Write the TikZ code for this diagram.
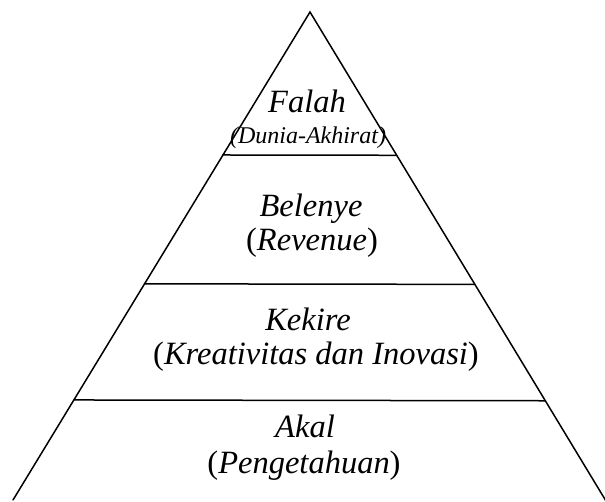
\documentclass[tikz,border=0pt]{standalone}
\usepackage{fontspec}
\setmainfont{Liberation Serif}
\usetikzlibrary{calc}
\tikzset{
  edge/.style={line width=1.5pt, line cap=round},
  bigtxt/.style={anchor=base, inner sep=0pt, font=\fontsize{32.5}{34}\selectfont\itshape},
  smalltxt/.style={anchor=base, inner sep=0pt, font=\fontsize{24}{25}\selectfont\itshape}
}
\begin{document}
\begin{tikzpicture}[x=1pt,y=-1pt]
\useasboundingbox (0,0) rectangle (605,501);
\coordinate (A) at (310,12);
\coordinate (BL) at (13,500);
\coordinate (BR) at (606,501);
\draw[edge] (BL) -- (A) -- (BR);
\coordinate (L1) at ($(A)!0.293!(BL)$);
\coordinate (R1) at ($(A)!0.293!(BR)$);
\coordinate (L2) at ($(A)!0.557!(BL)$);
\coordinate (R2) at ($(A)!0.557!(BR)$);
\coordinate (L3) at ($(A)!0.795!(BL)$);
\coordinate (R3) at ($(A)!0.795!(BR)$);
\draw[edge] (L1) -- (R1);
\draw[edge] (L2) -- (R2);
\draw[edge] (L3) -- (R3);
\node[bigtxt] (falah) at (307,112) {Falah};
\node[smalltxt] (dunia) at (308,143) {(Dunia-Akhirat)};
\node[bigtxt] (belenye) at (311,216) {Belenye};
\node[bigtxt] (revenue) at (312,250) {\upshape(\itshape Revenue\upshape)};
\node[bigtxt] (kekire) at (308,330) {Kekire};
\node[bigtxt] (kreativitas) at (316,364) {\upshape(\itshape Kreativitas dan Inovasi\upshape)};
\node[bigtxt] (akal) at (305,437) {Akal};
\node[bigtxt] (pengetahuan) at (304,473) {\upshape(\itshape Pengetahuan\upshape)};
\end{tikzpicture}
\end{document}
